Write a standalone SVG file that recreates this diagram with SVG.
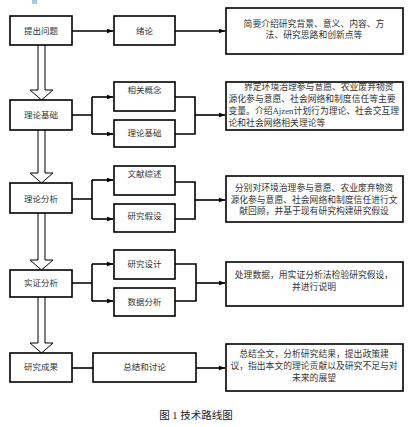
<svg xmlns="http://www.w3.org/2000/svg" width="411" height="427" viewBox="0 0 411 427">
<style>
.box{fill:#fff;stroke:#000;stroke-width:1.6}
.t{font-family:"Liberation Serif","Noto Sans CJK SC",serif;font-size:8.5px;fill:#333;text-anchor:middle}
.d{font-family:"Liberation Serif","Noto Sans CJK SC",serif;font-size:8.8px;fill:#333}
.c{stroke:#000;stroke-width:1.6;fill:none}
.h{fill:#fff;stroke:#000;stroke-width:1}
</style>
<defs>
<marker id="ar" markerWidth="7" markerHeight="6" refX="6.5" refY="3" orient="auto" markerUnits="userSpaceOnUse">
<path d="M0,0.5 L7,3 L0,5.5 Z" fill="#000"/>
</marker>
</defs>
<rect x="32" y="0" width="5" height="4" fill="#a8c8e0"/>
<g id="connectors">
<path class="c" d="M72,31 H113" marker-end="url(#ar)"/>
<path class="c" d="M175,31 H225" marker-end="url(#ar)"/>
<path class="c" d="M72,115 H92 M92,97 V134" />
<path class="c" d="M92,97 H113" marker-end="url(#ar)"/>
<path class="c" d="M92,134 H113" marker-end="url(#ar)"/>
<path class="c" d="M175,97 H195 V134 H175" />
<path class="c" d="M195,115 H225" marker-end="url(#ar)"/>
<path class="c" d="M72,199 H92 M92,180 V219" />
<path class="c" d="M92,180 H113" marker-end="url(#ar)"/>
<path class="c" d="M92,219 H113" marker-end="url(#ar)"/>
<path class="c" d="M175,182 H195 V219 H175" />
<path class="c" d="M195,200 H225" marker-end="url(#ar)"/>
<path class="c" d="M72,283 H92 M92,264 V301" />
<path class="c" d="M92,264 H113" marker-end="url(#ar)"/>
<path class="c" d="M92,301 H113" marker-end="url(#ar)"/>
<path class="c" d="M175,264 H196 V301 H175" />
<path class="c" d="M196,283 H225" marker-end="url(#ar)"/>
<path class="c" d="M72,368 H93" />
<path class="c" d="M196,368 H225" marker-end="url(#ar)"/>
<path class="h" d="M38,45 V90 H30 L41.5,100 L53,90 H45 V45"/>
<path class="h" d="M38,130 V173 H30 L41.5,183 L53,173 H45 V130"/>
<path class="h" d="M38,213 V260 H30 L41.5,270 L53,260 H45 V213"/>
<path class="h" d="M38,297 V343 H30 L41.5,353 L53,343 H45 V297"/>
</g>
<g id="n1"><rect class="box" x="10" y="16" width="62" height="29"/><text class="t" x="41" y="33.5">提出问题</text></g>
<g id="n2"><rect class="box" x="114" y="16" width="61" height="29"/><text class="t" x="144.5" y="33.5">绪论</text></g>
<g id="n3"><rect class="box" x="226" y="8" width="177" height="46"/>
<text class="d" text-anchor="middle"><tspan x="314" y="27">简要介绍研究背景、意义、内容、方</tspan><tspan x="314" y="38">法、研究思路和创新点等</tspan></text></g>
<g id="n4"><rect class="box" x="10" y="100" width="62" height="30"/><text class="t" x="41" y="117.5">理论基础</text></g>
<g id="n5"><rect class="box" x="114" y="82" width="61" height="29"/><text class="t" x="144.5" y="93">相关概念</text></g>
<g id="n6"><rect class="box" x="114" y="120" width="61" height="27"/><text class="t" x="144.5" y="136">理论基础</text></g>
<g id="n7"><rect class="box" x="226" y="82" width="177" height="48"/>
<text class="d"><tspan x="244" y="90">界定环境治理参与意愿、农业废弃物资</tspan><tspan x="228.5" y="102">源化参与意愿、社会网络和制度信任等主要</tspan><tspan x="228.5" y="114">变量。介绍Ajzen计划行为理论、社会交互理</tspan><tspan x="228.5" y="125.5">论和社会网络相关理论等</tspan></text></g>
<g id="n8"><rect class="box" x="10" y="183" width="62" height="30"/><text class="t" x="41" y="202">理论分析</text></g>
<g id="n9"><rect class="box" x="114" y="166" width="61" height="29"/><text class="t" x="144.5" y="177">文献综述</text></g>
<g id="n10"><rect class="box" x="114" y="204" width="61" height="28"/><text class="t" x="144.5" y="219">研究假设</text></g>
<g id="n11"><rect class="box" x="226" y="176" width="177" height="46"/>
<text class="d" text-anchor="middle"><tspan x="314" y="191">分别对环境治理参与意愿、农业废弃物资</tspan><tspan x="314" y="202.5">源化参与意愿、社会网络和制度信任进行文</tspan><tspan x="314" y="214">献回顾，并基于现有研究构建研究假设</tspan></text></g>
<g id="n12"><rect class="box" x="10" y="270" width="62" height="27"/><text class="t" x="41" y="286">实证分析</text></g>
<g id="n13"><rect class="box" x="114" y="250" width="61" height="29"/><text class="t" x="144.5" y="267">研究设计</text></g>
<g id="n14"><rect class="box" x="114" y="288" width="61" height="28"/><text class="t" x="144.5" y="305">数据分析</text></g>
<g id="n15"><rect class="box" x="226" y="262" width="177" height="44"/>
<text class="d" text-anchor="middle"><tspan x="314" y="278">处理数据，用实证分析法检验研究假设，</tspan><tspan x="314" y="290">并进行说明</tspan></text></g>
<g id="n16"><rect class="box" x="10" y="353" width="62" height="29"/><text class="t" x="41" y="370">研究成果</text></g>
<g id="n17"><rect class="box" x="93" y="353" width="103" height="29"/><text class="t" x="144.5" y="370">总结和讨论</text></g>
<g id="n18"><rect class="box" x="226" y="344" width="177" height="47"/>
<text class="d" text-anchor="middle"><tspan x="314" y="357">总结全文，分析研究结果，提出政策建</tspan><tspan x="314" y="369">议，指出本文的理论贡献以及研究不足与对</tspan><tspan x="314" y="380.5">未来的展望</tspan></text></g>
<text x="196" y="419" font-family="Liberation Serif,Noto Sans CJK SC,serif" font-size="10.5" fill="#222" text-anchor="middle" xml:space="preserve">图 1 技术路线图</text>
</svg>
